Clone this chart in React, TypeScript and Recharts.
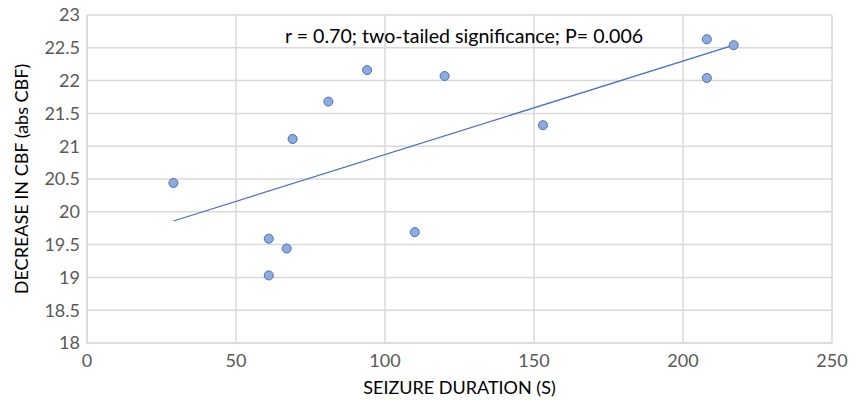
import { ScatterChart, Scatter, XAxis, YAxis, CartesianGrid, Label } from 'recharts';

const seizureDuration = [29, 61, 61, 67, 69, 81, 94, 110, 120, 153, 208, 208, 217];
const cbfDecrease = [20.44, 19.59, 19.03, 19.44, 21.11, 21.68, 22.16, 19.69, 22.07, 21.32, 22.63, 22.04, 22.54];

// trend line endpoints
const trendX = [29, 217];
const trendY = [19.86, 22.54];

const xTicks = [0, 50, 100, 150, 200, 250];
const yTicks = [18, 18.5, 19, 19.5, 20, 20.5, 21, 21.5, 22, 22.5, 23];

const annotation = 'r = 0.70; two-tailed significance; P= 0.006';

const points = seizureDuration.map((x, i) => ({ x, y: cbfDecrease[i] }));
const trend = trendX.map((x, i) => ({ x, y: trendY[i] }));

const FONT = 'Lato, "Open Sans", sans-serif';
const GRID = '#d9d9d9';

export default function App() {
  return (
    <div style={{ position: 'absolute', left: 0, top: 0, width: 862, height: 400, background: '#fff', fontFamily: FONT }}>
      <ScatterChart width={862} height={400} margin={{ top: 15, right: 30, left: 0, bottom: 0 }}>
        <CartesianGrid stroke={GRID} strokeWidth={1.5} />
        <XAxis
          type="number"
          dataKey="x"
          domain={[0, 250]}
          ticks={xTicks}
          height={57}
          tickLine={false}
          tickSize={0}
          tickMargin={11}
          axisLine={{ stroke: GRID, strokeWidth: 1.5 }}
          tick={{ fill: '#595959', fontSize: 18, fontFamily: FONT }}
        >
          <Label value="SEIZURE DURATION (S)" position="insideBottom" offset={6} style={{ fill: '#000', fontSize: 18, fontFamily: FONT }} />
        </XAxis>
        <YAxis
          type="number"
          dataKey="y"
          domain={[18, 23]}
          ticks={yTicks}
          width={87}
          tickLine={false}
          tickSize={0}
          tickMargin={7}
          axisLine={{ stroke: GRID, strokeWidth: 1.5 }}
          tick={{ fill: '#595959', fontSize: 18, fontFamily: FONT }}
        >
          <Label value="DECREASE IN CBF (abs CBF)" angle={-90} position="insideLeft" offset={22} style={{ textAnchor: 'middle', fill: '#000', fontSize: 18, fontFamily: FONT }} />
        </YAxis>
        <Scatter
          data={trend}
          line={{ stroke: '#4472c4', strokeWidth: 1.25 }}
          shape={() => null}
          isAnimationActive={false}
        />
        <Scatter
          data={points}
          fill="#8faadc"
          stroke="#4472c4"
          strokeWidth={1}
          shape="circle"
          isAnimationActive={false}
        />
      </ScatterChart>
      <div
        style={{
          position: 'absolute',
          left: 285,
          top: 26,
          fontSize: 19.6,
          color: '#000',
          whiteSpace: 'nowrap',
          lineHeight: '20px',
        }}
      >
        {annotation}
      </div>
    </div>
  );
}
